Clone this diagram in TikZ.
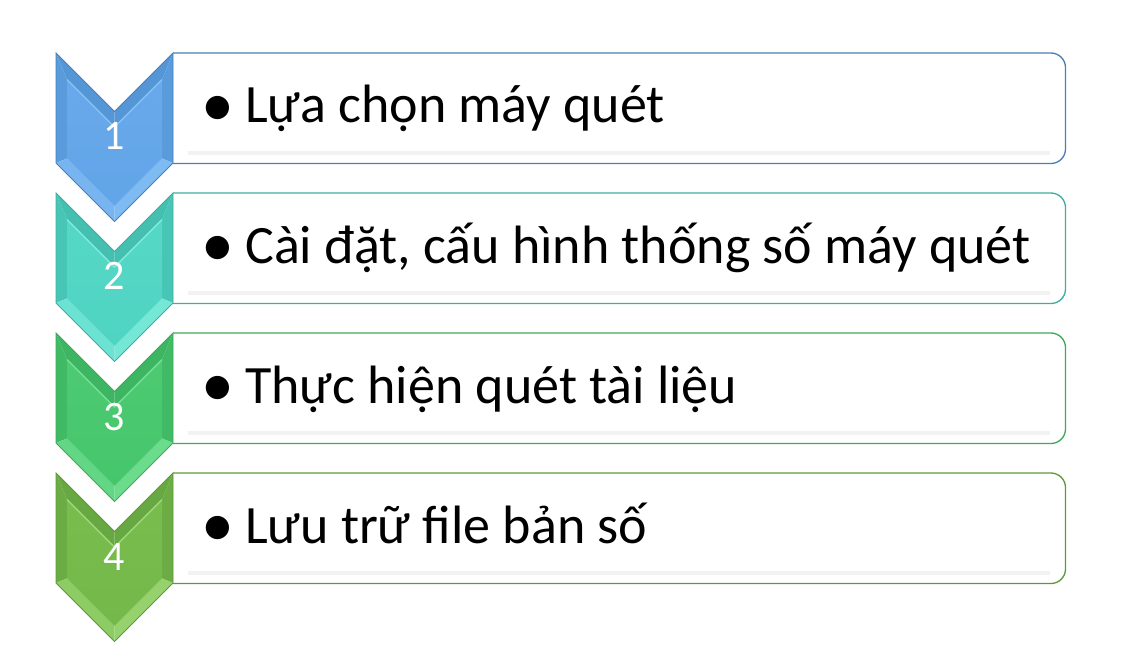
\documentclass[tikz,border=0pt]{standalone}
\usepackage{fontspec}
\setmainfont{Carlito}
\usetikzlibrary{positioning}

% colours of the four steps
\definecolor{oneBase}{HTML}{62A5E8}
\definecolor{oneDark}{HTML}{5596D6}
\definecolor{oneLight}{HTML}{86C0F5}
\definecolor{oneLine}{HTML}{4A7EBB}
\definecolor{twoBase}{HTML}{4FD4C2}
\definecolor{twoDark}{HTML}{45C0B0}
\definecolor{twoLight}{HTML}{7FEBDD}
\definecolor{twoLine}{HTML}{3FAE9F}
\definecolor{threeBase}{HTML}{46C66C}
\definecolor{threeDark}{HTML}{3EB562}
\definecolor{threeLight}{HTML}{74E094}
\definecolor{threeLine}{HTML}{3FA95B}
\definecolor{fourBase}{HTML}{73B848}
\definecolor{fourDark}{HTML}{68A842}
\definecolor{fourLight}{HTML}{9ED877}
\definecolor{fourLine}{HTML}{5E9A38}

\tikzset{
    stepbox/.style = {rectangle, fill=white, inner sep=0pt,
        minimum width=669pt, minimum height=82.5pt, anchor=north west},
    boxline/.style = {draw=#1, line width=1pt, rounded corners=11pt},
    boxshadow/.style = {draw=black!5, line width=2.5pt},
    steptext/.style = {anchor=base west, inner sep=0pt,
        font=\fontsize{40.5pt}{48pt}\selectfont},
    stepnum/.style = {anchor=base, inner sep=0pt, text=white,
        font=\fontsize{31.5pt}{36pt}\selectfont},
}

\newcommand{\stepbullet}{\makebox[33pt][l]{\raisebox{-2.6pt}{\scalebox{1.22}{•}}}}

% chevron with bevel, #1 = top (px), #2 = colour prefix
\newcommand{\stepchevron}[2]{%
  \begin{scope}[shift={(0,#1)}]
    \coordinate (oA) at (56,0);     \coordinate (iA) at (67,26.6);
    \coordinate (oN) at (114.5,58.5); \coordinate (iN) at (114.5,74.1);
    \coordinate (oB) at (173,0);    \coordinate (iB) at (162,26.6);
    \coordinate (oC) at (173,110);  \coordinate (iC) at (162,105.4);
    \coordinate (oT) at (114.5,168.5); \coordinate (iT) at (114.5,152.9);
    \coordinate (oD) at (56,110);   \coordinate (iD) at (67,105.4);
    \fill[#2Dark] (oA) -- (oN) -- (iN) -- (iA) -- cycle;
    \fill[#2Dark] (oN) -- (oB) -- (iB) -- (iN) -- cycle;
    \fill[#2Dark!70!#2Base] (oB) -- (oC) -- (iC) -- (iB) -- cycle;
    \fill[#2Dark!70!#2Base] (oD) -- (oA) -- (iA) -- (iD) -- cycle;
    \fill[#2Light!80!#2Base] (oC) -- (oT) -- (iT) -- (iC) -- cycle;
    \fill[#2Light!60!#2Base] (oT) -- (oD) -- (iD) -- (iT) -- cycle;
    \shade[top color=#2Base!85!#2Light, bottom color=#2Base]
      (iA) -- (iN) -- (iB) -- (iC) -- (iT) -- (iD) -- cycle;
    \draw[#2Light, line width=1pt] (iA) -- (iN) -- (iB);
    \draw[#2Line, line width=0.6pt]
      (oA) -- (oN) -- (oB) -- (oC) -- (oT) -- (oD) -- cycle;
  \end{scope}%
}

\begin{document}
\begin{tikzpicture}[x=0.75pt, y=-0.75pt]
		\useasboundingbox (0,0) rectangle (1122,663);

		% boxes
		\node [stepbox] (box1) at (173,53) {};
		\node [stepbox] (box2) at (173,193) {};
		\node [stepbox] (box3) at (173,333) {};
		\node [stepbox] (box4) at (173,473) {};

		\draw [boxshadow] ([xshift=11pt,yshift=8pt]box1.south west) -- ([xshift=-12pt,yshift=8pt]box1.south east);
		\draw [boxshadow] ([xshift=11pt,yshift=8pt]box2.south west) -- ([xshift=-12pt,yshift=8pt]box2.south east);
		\draw [boxshadow] ([xshift=11pt,yshift=8pt]box3.south west) -- ([xshift=-12pt,yshift=8pt]box3.south east);
		\draw [boxshadow] ([xshift=11pt,yshift=8pt]box4.south west) -- ([xshift=-12pt,yshift=8pt]box4.south east);

		\draw [boxline=oneLine] (box1.north west) -- (box1.north east) -- (box1.south east) -- (box1.south west);
		\draw [boxline=twoLine] (box2.north west) -- (box2.north east) -- (box2.south east) -- (box2.south west);
		\draw [boxline=threeLine] (box3.north west) -- (box3.north east) -- (box3.south east) -- (box3.south west);
		\draw [boxline=fourLine] (box4.north west) -- (box4.north east) -- (box4.south east) -- (box4.south west);

		% chevrons
		\stepchevron{53}{one}
		\stepchevron{193}{two}
		\stepchevron{333}{three}
		\stepchevron{473}{four}

		% numbers
		\node [stepnum] (num1) at (114.5,150) {1};
		\node [stepnum] (num2) at (114.5,290) {2};
		\node [stepnum] (num3) at (114.5,430) {3};
		\node [stepnum] (num4) at (114.5,570) {4};

		% texts
		\node [steptext] (text1) at (201,123) {\stepbullet Lựa chọn máy quét};
		\node [steptext] (text2) at (201,263) {\stepbullet Cài đặt, cấu hình thống số máy quét};
		\node [steptext] (text3) at (201,403) {\stepbullet Thực hiện quét tài liệu};
		\node [steptext] (text4) at (201,543) {\stepbullet Lưu trữ file bản số};

	\end{tikzpicture}
\end{document}
